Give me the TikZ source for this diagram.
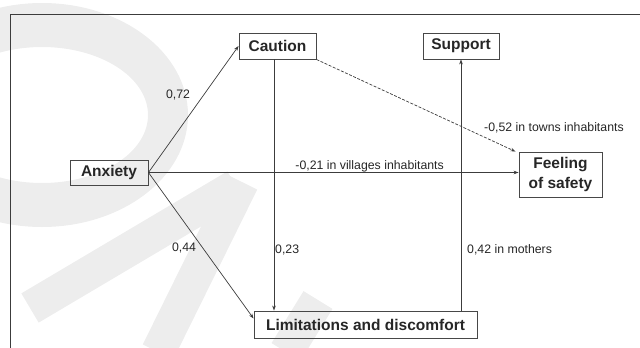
\documentclass[tikz,border=0pt]{standalone}
\usepackage{fontspec}
\setmainfont{Liberation Sans}
\usetikzlibrary{arrows.meta}
\definecolor{ink}{HTML}{262626}
\definecolor{wm}{HTML}{EDEDED}
\tikzset{
  box/.style={draw=ink!85, line width=0.9pt, text=ink, inner sep=0pt, align=center,
    font=\fontsize{15.5}{20}\selectfont\bfseries},
  conn/.style={draw=ink!90, line width=0.7pt, -{Stealth[length=5pt,width=3.6pt]}},
  lbl/.style={text=ink, inner sep=0pt, font=\fontsize{12.3}{14}\selectfont},
  wmstroke/.style={draw=wm, line width=34pt, line cap=butt}
}
\begin{document}
\begin{tikzpicture}[x=1pt,y=-1pt]
\useasboundingbox (0,0) rectangle (640,348);
\begin{scope}
\clip (0,0) rectangle (640,348);
% watermark
\fill[wm, even odd rule] (42,115) ellipse [x radius=146, y radius=112]
                          (42,115) ellipse [x radius=106, y radius=68];
\draw[wmstroke] (30,308) -- (236,186);
\draw[wmstroke] (242,182) -- (158,352);
\draw[wmstroke] (318,300) -- (286,352);
\end{scope}
% frame
\draw[ink!90, line width=0.8pt] (640,14) -- (10,14) -- (10,348);
% nodes
\node[box, minimum width=77pt, minimum height=26pt] (caution) at (277.5,46) {Caution};
\node[box, minimum width=76pt, minimum height=26pt] (support) at (461,46) {Support};
\node[box, minimum width=78pt, minimum height=25pt] (anxiety) at (109,172.5) {Anxiety};
\node[box, minimum width=83pt, minimum height=45pt] (feeling) at (560.5,174.5) {Feeling\\of safety};
\node[box, minimum width=223pt, minimum height=27pt] (limits) at (365.5,324.5) {Limitations and discomfort};
% connectors
\draw[conn] (anxiety.east) -- (caution.west);
\draw[conn] (anxiety.east) -- (anxiety.east -| feeling.west);
\draw[conn] (anxiety.east) -- ([yshift=6pt]limits.west);
\draw[conn] ([xshift=-3.5pt]caution.south) -- ([xshift=-3.5pt]caution.south |- limits.north);
\draw[conn] (support.south |- limits.north) -- (support.south);
\draw[conn, dash pattern=on 3pt off 1.5pt] (caution.south east) -- ([xshift=-3pt]feeling.north west);
% labels
\node[lbl] (l072) at (178,95) {0,72};
\node[lbl] (l044) at (184,248) {0,44};
\node[lbl, anchor=west] (l023) at (275,250) {0,23};
\node[lbl, anchor=west] (l042) at (467,250) {0,42 in mothers};
\node[lbl, anchor=east] (l021) at (444,166) {-0,21 in villages inhabitants};
\node[lbl, anchor=west] (l052) at (484,128) {-0,52 in towns inhabitants};
\end{tikzpicture}
\end{document}
